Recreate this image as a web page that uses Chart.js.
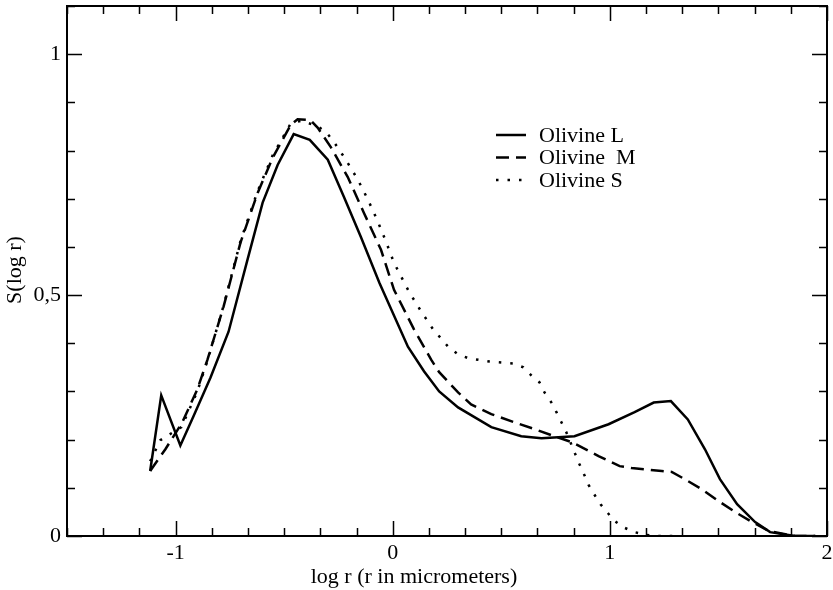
<!DOCTYPE html>
<html>
<head>
<meta charset="utf-8">
<script src="https://cdn.jsdelivr.net/npm/chart.js@4/dist/chart.umd.min.js"></script>
<style>
  html, body { margin: 0; padding: 0; background: #fff; }
  #wrap { width: 833px; height: 590px; }
</style>
</head>
<body>
<div id="wrap"><canvas id="sizeChart" width="833" height="590"></canvas></div>
<script>
// ---------------- data
const seriesNames = ['Olivine L', 'Olivine  M', 'Olivine S'];

const xL = [-1.117, -1.066, -0.978, -0.918, -0.839, -0.756, -0.669, -0.599, -0.530, -0.456, -0.382, -0.299, -0.225, -0.147, -0.061, 0.070, 0.144, 0.214, 0.301, 0.454, 0.592, 0.685, 0.763, 0.837, 0.994, 1.114, 1.202, 1.281, 1.359, 1.438, 1.507, 1.586, 1.669, 1.738, 1.853, 1.946];
const yL = [0.135, 0.292, 0.188, 0.248, 0.329, 0.424, 0.573, 0.692, 0.770, 0.834, 0.822, 0.781, 0.704, 0.621, 0.525, 0.393, 0.342, 0.300, 0.267, 0.226, 0.207, 0.203, 0.205, 0.207, 0.232, 0.257, 0.277, 0.280, 0.242, 0.180, 0.118, 0.066, 0.029, 0.008, 0.0, 0.0];

const xM = [-1.117, -1.047, -0.969, -0.900, -0.853, -0.779, -0.701, -0.622, -0.553, -0.470, -0.438, -0.378, -0.345, -0.285, -0.207, -0.133, -0.054, 0.006, 0.098, 0.177, 0.214, 0.301, 0.361, 0.454, 0.560, 0.652, 0.745, 0.823, 0.948, 1.045, 1.100, 1.239, 1.285, 1.345, 1.424, 1.502, 1.576, 1.655, 1.733, 1.853, 1.946];
const yM = [0.135, 0.180, 0.236, 0.304, 0.366, 0.476, 0.609, 0.712, 0.785, 0.853, 0.865, 0.863, 0.847, 0.807, 0.745, 0.671, 0.594, 0.511, 0.429, 0.366, 0.340, 0.298, 0.273, 0.253, 0.236, 0.222, 0.207, 0.195, 0.166, 0.145, 0.141, 0.135, 0.133, 0.118, 0.097, 0.072, 0.050, 0.029, 0.010, 0.0, 0.0];

const xS = [-1.117, -1.070, -0.973, -0.900, -0.853, -0.779, -0.701, -0.622, -0.553, -0.470, -0.420, -0.345, -0.308, -0.271, -0.216, -0.160, -0.114, -0.068, -0.031, 0.006, 0.075, 0.131, 0.186, 0.255, 0.301, 0.348, 0.445, 0.555, 0.602, 0.639, 0.676, 0.699, 0.731, 0.754, 0.777, 0.800, 0.837, 0.860, 0.883, 0.902, 0.930, 0.957, 0.990, 1.022, 1.068, 1.114, 1.170, 1.221, 1.322];
const yS = [0.155, 0.199, 0.226, 0.300, 0.364, 0.478, 0.612, 0.716, 0.790, 0.856, 0.862, 0.850, 0.839, 0.818, 0.781, 0.739, 0.698, 0.652, 0.611, 0.567, 0.507, 0.466, 0.429, 0.393, 0.377, 0.369, 0.362, 0.358, 0.350, 0.333, 0.319, 0.298, 0.277, 0.257, 0.236, 0.215, 0.174, 0.149, 0.126, 0.106, 0.085, 0.066, 0.048, 0.031, 0.017, 0.008, 0.002, 0.0, 0.0];

const xTicks = [-1, 0, 1, 2];
const xTickLabels = ['-1', '0', '1', '2'];
const yTicks = [0, 0.5, 1];
const yTickLabels = ['0', '0,5', '1'];

const xTitle = 'log r (r in micrometers)';
const yTitle = 'S(log r)';

// ---------------- chart
const serif = '"Liberation Serif", "DejaVu Serif", serif';
const toPoints = (xs, ys) => xs.map((x, i) => ({ x: x, y: ys[i] }));

// inward ticks, frame, titles and legend like the xmgrace original
const gracePlugin = {
  id: 'grace',
  afterDraw(chart) {
    const ctx = chart.ctx;
    const a = chart.chartArea;
    const xs = chart.scales.x, ys = chart.scales.y;
    ctx.save();
    ctx.strokeStyle = '#000';

    // x ticks: major every 1, minor every 1/6
    ctx.lineWidth = 1.5;
    ctx.beginPath();
    for (let k = -9; k <= 12; k++) {
      const v = k / 6;
      const px = Math.round(xs.getPixelForValue(v)) + 0.5;
      const len = (k % 6 === 0) ? 15 : 8;
      ctx.moveTo(px, a.bottom); ctx.lineTo(px, a.bottom - len);
      ctx.moveTo(px, a.top); ctx.lineTo(px, a.top + len);
    }
    // y ticks: major every 0.5, minor every 0.1
    for (let k = 0; k <= 11; k++) {
      const v = k / 10;
      const py = Math.round(ys.getPixelForValue(v)) + 0.5;
      const len = (k % 5 === 0) ? 15 : 8;
      ctx.moveTo(a.left, py); ctx.lineTo(a.left + len, py);
      ctx.moveTo(a.right, py); ctx.lineTo(a.right - len, py);
    }
    ctx.stroke();

    // frame
    ctx.lineWidth = 2;
    ctx.strokeRect(a.left, a.top, a.right - a.left, a.bottom - a.top);

    // axis titles
    ctx.fillStyle = '#000';
    ctx.font = '22px ' + serif;
    ctx.textAlign = 'center';
    ctx.textBaseline = 'middle';
    ctx.fillText(xTitle, 414, 577);
    ctx.save();
    ctx.translate(15, 270);
    ctx.rotate(-Math.PI / 2);
    ctx.fillText(yTitle, 0, 0);
    ctx.restore();

    // legend
    ctx.textAlign = 'left';
    chart.data.datasets.forEach((ds, i) => {
      const y = 135 + i * 22.5;
      ctx.save();
      ctx.lineWidth = ds.borderWidth;
      ctx.setLineDash(ds.borderDash || []);
      ctx.beginPath();
      ctx.moveTo(496, y); ctx.lineTo(526, y);
      ctx.stroke();
      ctx.restore();
      ctx.fillText(ds.label, 539, y + 1);
    });
    ctx.restore();
  }
};

document.addEventListener('DOMContentLoaded', function () {
  const ctx = document.getElementById('sizeChart').getContext('2d');
  new Chart(ctx, {
    type: 'scatter',
    data: {
      datasets: [{
        label: seriesNames[0],
        data: toPoints(xL, yL),
        borderColor: '#000',
        borderWidth: 2.5,
        borderDash: [],
      }, {
        label: seriesNames[1],
        data: toPoints(xM, yM),
        borderColor: '#000',
        borderWidth: 2.5,
        borderDash: [13, 7],
      }, {
        label: seriesNames[2],
        data: toPoints(xS, yS),
        borderColor: '#000',
        borderWidth: 2.5,
        borderDash: [2.5, 9],
      }]
    },
    options: {
      responsive: false,
      animation: false,
      showLine: true,
      elements: {
        point: { radius: 0, hoverRadius: 0 },
        line: { tension: 0, fill: false, borderCapStyle: 'butt' }
      },
      layout: { padding: { left: 0, right: 6, top: 6, bottom: 0 } },
      scales: {
        x: {
          type: 'linear',
          min: -1.5,
          max: 2,
          grid: { display: false, drawTicks: false },
          border: { display: false },
          afterBuildTicks: s => { s.ticks = xTicks.map(v => ({ value: v })); },
          afterFit: s => { s.height = 54; s.paddingLeft = 0; s.paddingRight = 0; },
          ticks: {
            color: '#000',
            padding: 4,
            maxRotation: 0,
            font: { family: serif, size: 22 },
            callback: (v, i) => xTickLabels[i]
          }
        },
        y: {
          type: 'linear',
          min: 0,
          max: 1.1,
          grid: { display: false, drawTicks: false },
          border: { display: false },
          afterBuildTicks: s => { s.ticks = yTicks.map(v => ({ value: v })); },
          afterFit: s => { s.width = 67; s.paddingTop = 0; s.paddingBottom = 0; },
          ticks: {
            color: '#000',
            padding: 6,
            font: { family: serif, size: 22 },
            callback: (v, i) => yTickLabels[i]
          }
        }
      },
      plugins: {
        legend: { display: false },
        tooltip: { enabled: false }
      }
    },
    plugins: [gracePlugin]
  });
});
</script>
</body>
</html>
